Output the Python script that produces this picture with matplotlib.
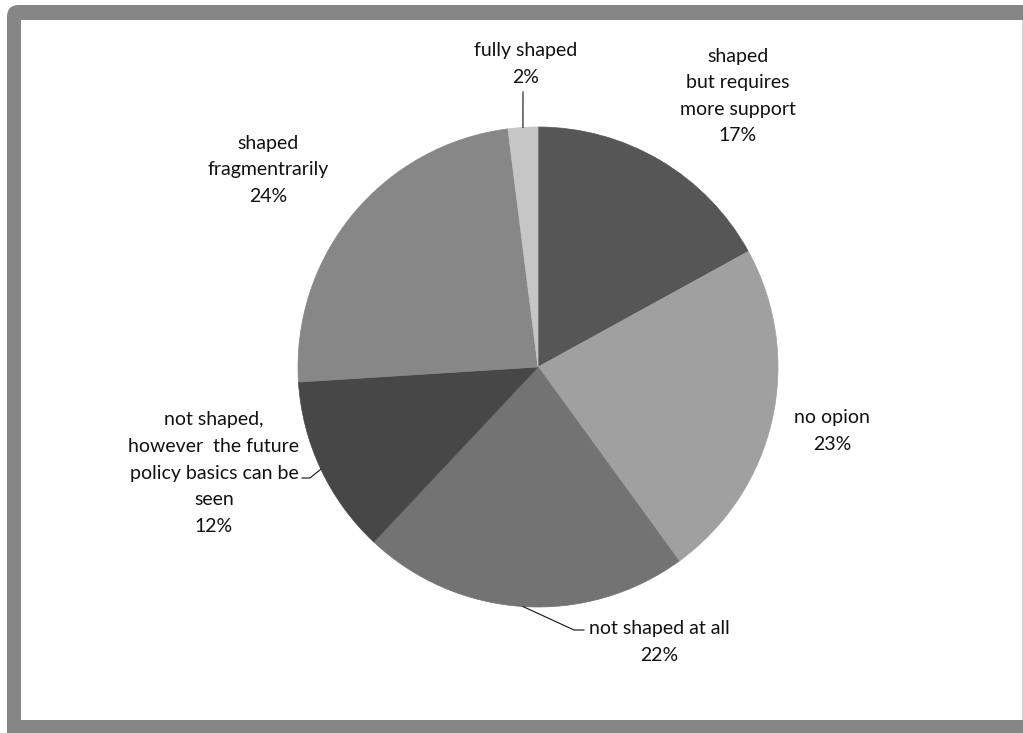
import numpy as np
import matplotlib.pyplot as plt
from matplotlib.patches import FancyBboxPatch, Rectangle

W, H = 1023, 733

labels = [
    "shaped\nbut requires\nmore support",
    "no opion",
    "not shaped at all",
    "not shaped,\nhowever  the future\npolicy basics can be\nseen",
    "shaped\nfragmentrarily",
    "fully shaped",
]
shares = [17, 23, 22, 12, 24, 2]
colors = ["#565656", "#a0a0a0", "#737373", "#474747", "#878787", "#c6c6c6"]

# label centres in pixel coords (y measured from the top)
label_pos = [(738, 96), (832, 431), (659, 642), (214, 473), (268, 170), (526, 64)]
# leader line elbows (from rim outwards), None where no leader is drawn
leaders = [None, None, [(574, 630), (584, 630)], [(310, 478), (302, 478)],
           None, [(523, 92)]]

cx, cy, r = 538, 367, 240


def flip(y):
    return H - y


fig = plt.figure(figsize=(W / 100, H / 100), dpi=100)
ax = fig.add_axes([0, 0, 1, 1])

wedges, _ = ax.pie(shares, colors=colors, startangle=90, counterclock=False,
                   center=(cx, flip(cy)), radius=r,
                   wedgeprops=dict(linewidth=0.5))
for w, c in zip(wedges, colors):
    w.set_edgecolor(c)

ax.set_xlim(0, W)
ax.set_ylim(0, H)
ax.set_aspect("equal")
ax.axis("off")

# grey frame with rounded corner and white plot area
ax.add_patch(FancyBboxPatch((7, -27), 1053, 755,
                            boxstyle="round,pad=0,rounding_size=12",
                            facecolor="#868686", edgecolor="none", zorder=-3))
ax.add_patch(Rectangle((21, flip(720)), 1001, 700,
                       facecolor="white", edgecolor="none", zorder=-2))
ax.add_patch(Rectangle((1021.5, flip(720)), 1.5, 700,
                       facecolor="#d4d4d4", edgecolor="none", zorder=-2))

total = sum(shares)
start = 90.0
for lab, val, pos, lead in zip(labels, shares, label_pos, leaders):
    sweep = 360.0 * val / total
    mid = np.deg2rad(start - sweep / 2)
    start -= sweep
    ax.text(pos[0], flip(pos[1]), f"{lab}\n{val}%", ha="center", va="center",
            fontsize=14, family="Lato", color="#111111", linespacing=1.68)
    if lead:
        rx = cx + r * np.cos(mid)
        ry = flip(cy) + r * np.sin(mid)
        xs = [rx] + [p[0] for p in lead]
        ys = [ry] + [flip(p[1]) for p in lead]
        ax.plot(xs, ys, color="#111111", lw=0.8)

fig.savefig("out.png", dpi=100)
